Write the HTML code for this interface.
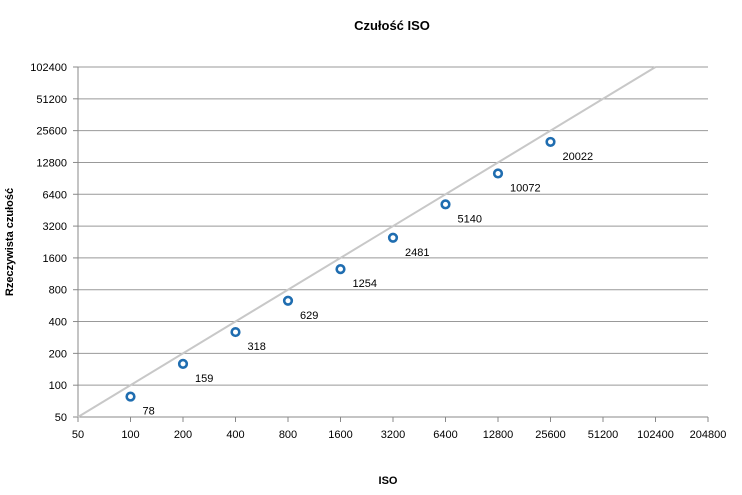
<!DOCTYPE html>
<html><head><meta charset="utf-8"><style>
body{margin:0;background:#fff;font-family:"Liberation Sans",sans-serif;}
svg text{font-family:"Liberation Sans",sans-serif;}
</style></head><body>
<svg id="chart" width="742" height="490" viewBox="0 0 742 490">
<rect width="742" height="490" fill="#fff"/>
<text x="392" y="30" text-anchor="middle" font-size="13" font-weight="bold">Czułość ISO</text>
<text x="388" y="484" text-anchor="middle" font-size="11" font-weight="bold">ISO</text>
<text transform="translate(13,242) rotate(-90)" text-anchor="middle" font-size="11" font-weight="bold">Rzeczywista czułość</text>
<g id="grid"></g><g id="axes"></g><g id="marks"></g>
</svg>
<script>
const xTicks=[50,100,200,400,800,1600,3200,6400,12800,25600,51200,102400,204800];
const yTicks=[50,100,200,400,800,1600,3200,6400,12800,25600,51200,102400];
const isoValues=[100,200,400,800,1600,3200,6400,12800,25600];
const measured=[78,159,318,629,1254,2481,5140,10072,20022];
const NS="http://www.w3.org/2000/svg";
const X0=78,X1=708,Y0=417,Y1=67;
function xs(v){return X0+(Math.log2(v/50))/Math.log2(204800/50)*(X1-X0);}
function ys(v){return Y0-(Math.log2(v/50))/Math.log2(102400/50)*(Y0-Y1);}
function mk(tag,attrs,parent,txt){const e=document.createElementNS(NS,tag);for(const k in attrs)e.setAttribute(k,attrs[k]);if(txt!==undefined)e.textContent=txt;parent.appendChild(e);return e;}
const grid=document.getElementById('grid'),axes=document.getElementById('axes'),marks=document.getElementById('marks');
yTicks.forEach(v=>{
  const g=mk('line',{x1:X0,x2:X1,y1:ys(v),y2:ys(v),stroke:v===50?'#888':'#999','stroke-width':1},grid);
  
  
  const t=mk('text',{x:X0-11,y:ys(v)+4,'text-anchor':'end','font-size':11},axes,String(v));
  
  
  mk('line',{x1:X0-5,x2:X0,y1:ys(v),y2:ys(v),stroke:'#888'},axes);
});
mk('line',{x1:X0,x2:X0,y1:Y1,y2:Y0,stroke:'#888'},axes);
xTicks.forEach(v=>{
  mk('line',{x1:xs(v),x2:xs(v),y1:Y0,y2:Y0+5,stroke:'#888'},axes);
  const t=mk('text',{x:xs(v),y:Y0+21,'text-anchor':'middle','font-size':11},axes,String(v));
  
  
});
const ref=mk('line',{x1:xs(50),y1:ys(50),x2:xs(102400),y2:ys(102400),stroke:'#c8c8c8','stroke-width':2},marks);


isoValues.forEach((v,i)=>{
  const c=mk('circle',{cx:xs(v),cy:ys(measured[i]),r:3.8,fill:'#fff',stroke:'#1f6db0','stroke-width':2.6},marks);
  
  
  const t=mk('text',{x:xs(v)+12,y:ys(measured[i])+18,'font-size':11},marks,String(measured[i]));
  
  
});
</script>
</body></html>
